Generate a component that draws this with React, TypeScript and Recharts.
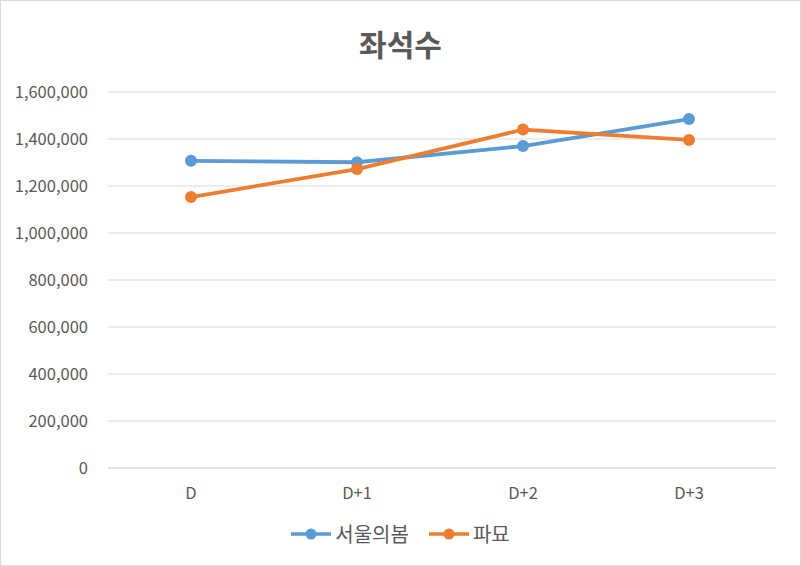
import React from "react";
import {
  LineChart,
  Line,
  XAxis,
  YAxis,
  CartesianGrid,
} from "recharts";

const categories = ["D", "D+1", "D+2", "D+3"];
const seoulSpring = [1307000, 1301000, 1370000, 1485000];
const exhuma = [1153000, 1272000, 1440000, 1396000];
const yTicks = [0, 200000, 400000, 600000, 800000, 1000000, 1200000, 1400000, 1600000];

const series = [
  { key: "서울의봄", color: "#5B9BD5", values: seoulSpring },
  { key: "파묘", color: "#ED7D31", values: exhuma },
];

const data = categories.map((name, i) => {
  const row: Record<string, string | number> = { name };
  series.forEach((s) => (row[s.key] = s.values[i]));
  return row;
});

const FONT = '"Noto Sans CJK KR", "Noto Sans", sans-serif';
const TEXT = "#595959";

function LegendIcon({ color }: { color: string }) {
  return (
    <svg width={40} height={14} style={{ marginRight: 4 }}>
      <line x1={0} y1={7} x2={40} y2={7} stroke={color} strokeWidth={3.5} />
      <circle cx={20} cy={7} r={5.5} fill={color} />
    </svg>
  );
}

export default function App() {
  return (
    <div
      style={{
        position: "absolute",
        left: 0,
        top: 0,
        width: 801,
        height: 566,
        boxSizing: "border-box",
        border: "1px solid #d9d9d9",
        background: "#fff",
        fontFamily: FONT,
      }}
    >
      <div
        style={{
          position: "absolute",
          top: 22,
          width: "100%",
          textAlign: "center",
          fontSize: 30,
          lineHeight: "40px",
          fontWeight: "bold",
          color: TEXT,
        }}
      >
        좌석수
      </div>
      <LineChart
        width={799}
        height={564}
        data={data}
        margin={{ top: 91, right: 24, bottom: 67, left: 0 }}
        style={{ position: "absolute", left: 0, top: 0 }}
      >
        <CartesianGrid vertical={false} stroke="#d9d9d9" />
        <XAxis
          dataKey="name"
          padding={{ left: 83, right: 87 }}
          axisLine={{ stroke: "#d9d9d9" }}
          tickLine={false}
          tick={{ fill: TEXT, fontSize: 16.5, fontFamily: FONT }}
          tickMargin={13}
        />
        <YAxis
          width={107}
          domain={[0, 1600000]}
          ticks={yTicks}
          axisLine={false}
          tickLine={false}
          tick={{ fill: TEXT, fontSize: 16.5, fontFamily: FONT }}
          tickFormatter={(v: number) => v.toLocaleString("en-US")}
          tickMargin={14}
        />
        {series.map((s) => (
          <Line
            key={s.key}
            dataKey={s.key}
            stroke={s.color}
            strokeWidth={3.8}
            dot={{ r: 6, fill: s.color, stroke: s.color, strokeWidth: 0 }}
            isAnimationActive={false}
          />
        ))}
      </LineChart>
      <div
        style={{
          position: "absolute",
          top: 518,
          width: "100%",
          display: "flex",
          justifyContent: "center",
          alignItems: "center",
          gap: 20,
          fontSize: 20,
          lineHeight: "30px",
          color: TEXT,
        }}
      >
        {series.map((s) => (
          <div key={s.key} style={{ display: "flex", alignItems: "center" }}>
            <LegendIcon color={s.color} />
            <span>{s.key}</span>
          </div>
        ))}
      </div>
    </div>
  );
}
